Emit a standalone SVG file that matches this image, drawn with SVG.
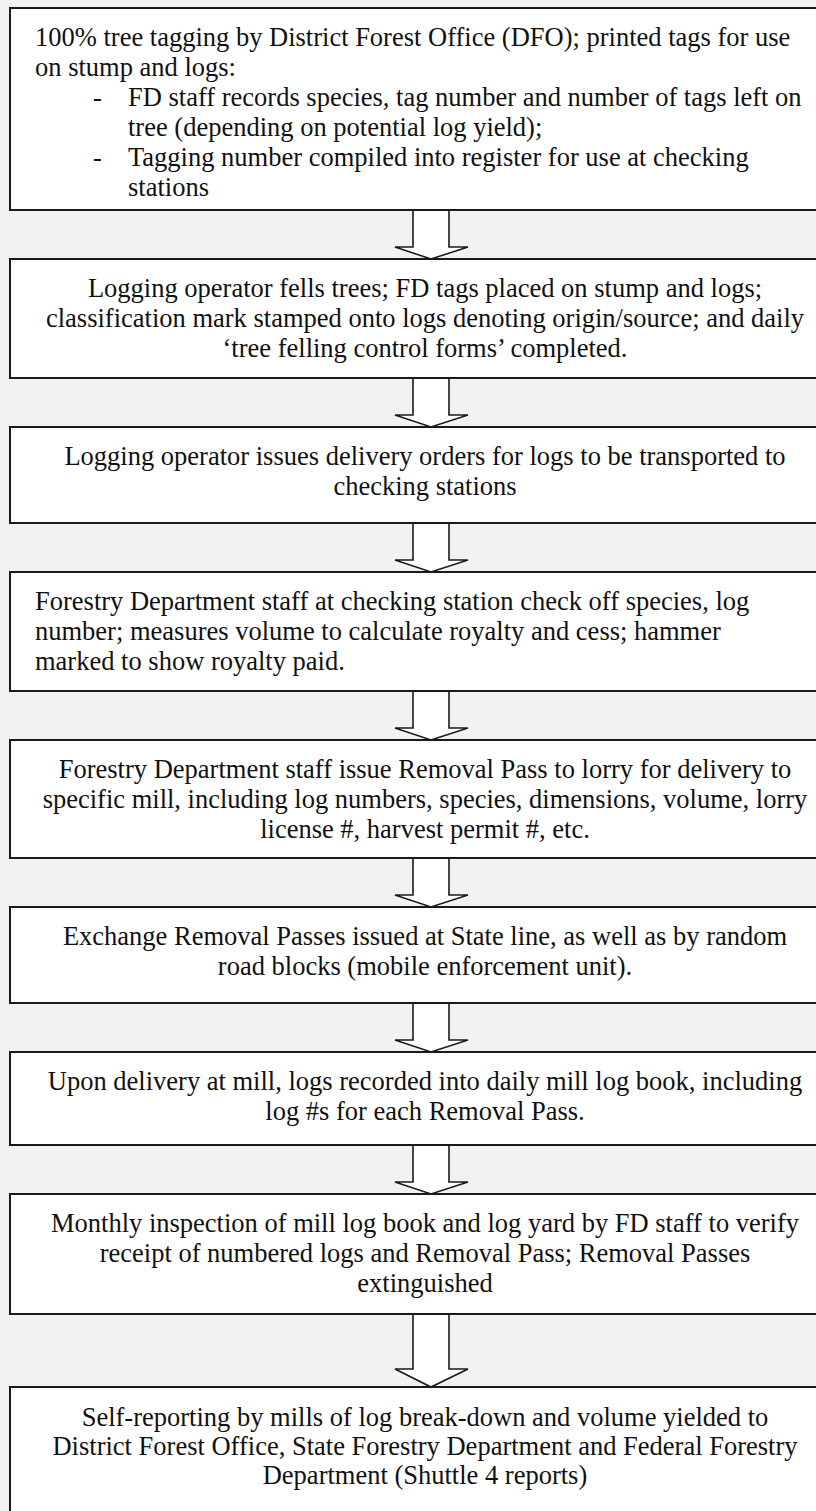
<svg xmlns="http://www.w3.org/2000/svg" width="816" height="1511" viewBox="0 0 816 1511">
  <style>
    .box { fill: #ffffff; stroke: #1a1a1a; stroke-width: 2; }
    .arrow { fill: #ffffff; stroke: #1a1a1a; stroke-width: 1.6; stroke-linejoin: miter; }
    text { font-family: "Liberation Serif", "Times New Roman", serif; font-size: 26.5px; fill: #111111; }
    .c { text-anchor: middle; }
  </style>
  <rect x="0" y="0" width="816" height="1511" fill="#f2f2f2"/>

  <!-- block arrows linking each step to the next -->
  <g id="connectors">
    <polygon class="arrow" points="413,210 449,210 449,247 468,247 431,259 395,247 413,247"/>
    <polygon class="arrow" points="413,378 449,378 449,415 468,415 431,427 395,415 413,415"/>
    <polygon class="arrow" points="413,523 449,523 449,560 468,560 431,572 395,560 413,560"/>
    <polygon class="arrow" points="413,691 449,691 449,728 468,728 431,740 395,728 413,728"/>
    <polygon class="arrow" points="413,858 449,858 449,895 468,895 431,907 395,895 413,895"/>
    <polygon class="arrow" points="413,1003 449,1003 449,1040 468,1040 431,1052 395,1040 413,1040"/>
    <polygon class="arrow" points="413,1145 449,1145 449,1182 468,1182 431,1194 395,1182 413,1182"/>
    <polygon class="arrow" points="413,1314 449,1314 449,1369 468,1369 431,1387 395,1369 413,1369"/>
  </g>

  <g id="step1">
    <rect class="box" x="10" y="8" width="850" height="202"/>
    <text x="35" y="46">100% tree tagging by District Forest Office (DFO); printed tags for use</text>
    <text x="35" y="76">on stump and logs:</text>
    <text x="93" y="106">-</text>
    <text x="128" y="106">FD staff records species, tag number and number of tags left on</text>
    <text x="128" y="136">tree (depending on potential log yield);</text>
    <text x="93" y="166">-</text>
    <text x="128" y="166">Tagging number compiled into register for use at checking</text>
    <text x="128" y="196">stations</text>
  </g>

  <g id="step2">
    <rect class="box" x="10" y="259" width="850" height="119"/>
    <text class="c" x="425" y="297">Logging operator fells trees; FD tags placed on stump and logs;</text>
    <text class="c" x="425" y="327">classification mark stamped onto logs denoting origin/source; and daily</text>
    <text class="c" x="425" y="357">‘tree felling control forms’ completed.</text>
  </g>

  <g id="step3">
    <rect class="box" x="10" y="427" width="850" height="96"/>
    <text class="c" x="425" y="465">Logging operator issues delivery orders for logs to be transported to</text>
    <text class="c" x="425" y="495">checking stations</text>
  </g>

  <g id="step4">
    <rect class="box" x="10" y="572" width="850" height="119"/>
    <text x="35" y="610">Forestry Department staff at checking station check off species, log</text>
    <text x="35" y="640">number; measures volume to calculate royalty and cess; hammer</text>
    <text x="35" y="670">marked to show royalty paid.</text>
  </g>

  <g id="step5">
    <rect class="box" x="10" y="740" width="850" height="118"/>
    <text class="c" x="425" y="778">Forestry Department staff issue Removal Pass to lorry for delivery to</text>
    <text class="c" x="425" y="808">specific mill, including log numbers, species, dimensions, volume, lorry</text>
    <text class="c" x="425" y="838">license #, harvest permit #, etc.</text>
  </g>

  <g id="step6">
    <rect class="box" x="10" y="907" width="850" height="96"/>
    <text class="c" x="425" y="945">Exchange Removal Passes issued at State line, as well as by random</text>
    <text class="c" x="425" y="975">road blocks (mobile enforcement unit).</text>
  </g>

  <g id="step7">
    <rect class="box" x="10" y="1052" width="850" height="93"/>
    <text class="c" x="425" y="1090">Upon delivery at mill, logs recorded into daily mill log book, including</text>
    <text class="c" x="425" y="1120">log #s for each Removal Pass.</text>
  </g>

  <g id="step8">
    <rect class="box" x="10" y="1194" width="850" height="120"/>
    <text class="c" x="425" y="1232">Monthly inspection of mill log book and log yard by FD staff to verify</text>
    <text class="c" x="425" y="1262">receipt of numbered logs and Removal Pass; Removal Passes</text>
    <text class="c" x="425" y="1292">extinguished</text>
  </g>

  <g id="step9">
    <rect class="box" x="10" y="1387" width="850" height="140"/>
    <text class="c" x="425" y="1426">Self-reporting by mills of log break-down and volume yielded to</text>
    <text class="c" x="425" y="1455">District Forest Office, State Forestry Department and Federal Forestry</text>
    <text class="c" x="425" y="1484">Department (Shuttle 4 reports)</text>
  </g>
</svg>
